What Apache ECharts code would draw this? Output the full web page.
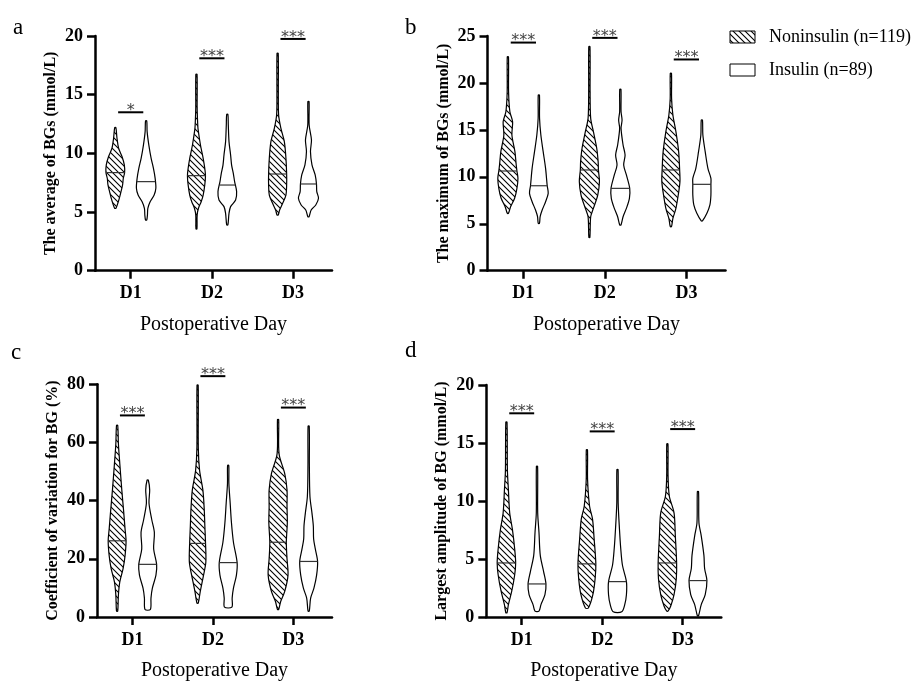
<!DOCTYPE html>
<html><head><meta charset="utf-8">
<script src="https://cdn.jsdelivr.net/npm/echarts@6/dist/echarts.min.js"></script>
<style>html,body{margin:0;padding:0;background:#fff}#c{width:920px;height:682px}</style>
</head><body><div id="c"></div>
<script>
// ---------- data ----------
const days = ['D1', 'D2', 'D3'];
const groupNames = ['Noninsulin (n=119)', 'Insulin (n=89)'];
const panelLetters = ['a', 'b', 'c', 'd'];
const yTitles = ['The average of BGs (mmol/L)', 'The maximum of BGs (mmol/L)', 'Coefficient of variation for BG (%)', 'Largest amplitude of BG (mmol/L)'];
const xTitle = 'Postoperative Day';
const yMax = [20, 25, 80, 20];
const yStep = [5, 5, 20, 5];

// violin profiles: [value, relative half-width], listed top to bottom, one per day
const avgNon = [
  [[12.19,0.6],[11.29,1.7],[10.44,3.3],[9.73,6.7],[9.02,9],[8.36,9.3],[7.88,8],[7.31,7.3],[6.74,5.7],[6.17,4],[5.61,2],[5.32,0.6]],
  [[16.74,0.6],[13.84,0.7],[12.42,1.3],[12.0,1.7],[10.71,4],[9.58,6.7],[8.72,8.3],[8.10,9],[7.31,8.3],[6.45,6.7],[5.88,4.7],[5.32,2],[4.75,0.7],[3.55,0.5]],
  [[18.53,0.6],[15.26,0.7],[13.27,1],[12.13,3.3],[11.0,6.7],[9.58,8.3],[8.24,9],[7.31,9],[6.45,8.3],[5.74,5],[5.17,2],[4.75,0.6]]
];
const avgIns = [
  [[12.76,0.6],[11.85,1],[10.7,2.7],[9.57,5],[8.72,7.3],[7.87,9],[7.02,9.7],[6.45,8],[5.88,4],[5.32,1.7],[4.75,1.3],[4.32,0.6]],
  [[13.33,0.6],[12.42,1],[11.0,1.7],[9.86,3.3],[9.0,4.3],[8.3,6],[7.59,7.3],[6.74,9.3],[6.02,8.3],[5.46,3.3],[4.89,1.7],[3.9,0.6]],
  [[14.41,0.6],[12.42,0.7],[11.14,3],[10.15,2],[9.02,3.5],[8.16,6.7],[7.39,8],[6.74,8.3],[6.17,10],[5.6,7.3],[5.17,2.7],[4.6,0.6]]
];
const maxNon = [
  [[22.79,0.6],[19.06,0.7],[16.93,2],[15.87,4.7],[14.45,4],[12.68,7],[11.26,8.3],[10.62,9],[9.84,10],[8.77,9],[7.71,6.7],[6.82,2.7],[6.11,0.6]],
  [[23.86,0.6],[19.06,0.7],[16.23,1.3],[14.81,4],[13.04,7.3],[11.62,8.7],[10.73,9],[9.49,10],[8.06,8.3],[6.64,4],[5.75,1.3],[3.55,0.5]],
  [[21.02,0.6],[18.35,0.7],[16.58,2],[14.81,5],[12.68,7.7],[10.73,8.7],[9.49,9],[8.06,7.3],[6.64,5],[5.57,2],[4.69,0.6]]
];
const maxIns = [
  [[18.71,0.6],[16.23,0.7],[14.45,2],[12.68,4.3],[10.9,6.7],[9.05,8.3],[8.24,9.3],[7.35,6.7],[6.46,3.3],[5.75,1.3],[5.04,0.6]],
  [[19.32,0.6],[16.93,0.7],[16.04,1.7],[15.16,0.7],[13.39,2.7],[12.32,4.7],[11.26,3.3],[10.2,6],[8.77,9.3],[7.71,9],[6.64,6],[5.75,2.7],[4.87,0.6]],
  [[16.05,0.6],[14.45,1],[12.68,3.3],[10.9,6],[9.84,9],[9.2,9],[8.06,9],[7.0,8],[6.11,5],[5.3,0.6]]
];
const cvNon = [
  [[65.9,0.6],[59.5,1.3],[52.7,2.7],[43.7,4.7],[35.8,6.7],[30.2,8],[26.2,9],[21.1,8],[16.6,6],[12.1,2.7],[7.6,1.3],[2.0,0.6]],
  [[79.7,0.6],[58.3,0.7],[50.4,2],[43.7,5.3],[36.9,6.7],[31.3,7.3],[25.3,8],[18.9,8.3],[14.4,6],[8.8,2.7],[4.8,0.7]],
  [[67.9,0.6],[56.1,1],[49.3,6.7],[43.7,9],[38.0,9],[32.4,9.3],[25.7,8.3],[20.0,9],[14.4,10],[8.8,6.7],[5.4,2.7],[2.6,0.6]]
];
const cvIns = [
  [[47.1,0.6],[43.7,2],[39.2,1.3],[33.6,4],[29.1,6.7],[23.4,6],[18.1,9],[14.4,8.3],[9.9,4.7],[6.5,3.3],[2.6,2.7]],
  [[52.1,0.6],[46.0,0.7],[39.2,2],[32.4,3.3],[25.7,5.3],[18.7,9],[14.4,8.3],[9.9,5.3],[6.5,4],[3.4,3.7]],
  [[65.6,0.6],[52.7,0.7],[41.4,1.3],[35.8,3.3],[31.3,4.7],[26.8,5],[23.4,6.7],[19.1,9],[14.4,8],[9.9,5.3],[6.5,2],[2.0,0.6]]
];
const ampNon = [
  [[16.81,0.6],[12.66,1],[10.96,2],[8.98,3.3],[7.57,6],[5.88,8.3],[4.66,9.3],[3.62,8.3],[2.2,5.3],[1.07,2],[0.37,0.6]],
  [[14.41,0.6],[11.81,0.7],[9.55,2.7],[8.42,5.7],[6.72,7.3],[4.58,9],[3.33,8.3],[1.92,6],[0.78,1.5]],
  [[14.92,0.6],[12.09,0.7],[10.4,2],[8.98,6.7],[7.0,8],[4.66,9.3],[3.33,9],[1.92,6.7],[0.93,3.3],[0.51,0.6]]
];
const ampIns = [
  [[12.99,0.6],[8.98,0.7],[7.29,2],[5.31,3.3],[3.9,6.7],[2.85,9],[1.92,8],[1.07,4],[0.51,2]],
  [[12.71,0.6],[9.83,0.7],[7.57,2],[5.88,3.3],[4.46,5],[3.05,9],[1.92,9],[1.07,7.3],[0.45,4.3]],
  [[10.82,0.6],[8.13,1],[7.0,3.3],[5.31,6],[4.18,6.7],[3.14,9],[1.92,7.3],[1.07,3.3],[0.11,0.6]]
];
// medians per day
const avgMedNon = [8.36, 8.10, 8.24];
const avgMedIns = [7.59, 7.30, 7.39];
const maxMedNon = [10.62, 10.73, 10.73];
const maxMedIns = [9.05, 8.77, 9.20];
const cvMedNon = [26.2, 25.3, 25.7];
const cvMedIns = [18.1, 18.7, 19.1];
const ampMedNon = [4.66, 4.58, 4.66];
const ampMedIns = [2.85, 3.05, 3.14];
// significance bars: height and label per day
const avgSigY = [13.5, 18.1, 19.75];
const maxSigY = [24.3, 24.8, 22.5];
const cvSigY = [69.3, 82.8, 72.0];
const ampSigY = [17.56, 16.0, 16.2];
const avgSigLabel = ['*', '***', '***'];
const maxSigLabel = ['***', '***', '***'];
const cvSigLabel = ['***', '***', '***'];
const ampSigLabel = ['***', '***', '***'];

const panelsNon = [avgNon, maxNon, cvNon, ampNon];
const panelsIns = [avgIns, maxIns, cvIns, ampIns];
const medNon = [avgMedNon, maxMedNon, cvMedNon, ampMedNon];
const medIns = [avgMedIns, maxMedIns, cvMedIns, ampMedIns];
const sigY = [avgSigY, maxSigY, cvSigY, ampSigY];
const sigLabel = [avgSigLabel, maxSigLabel, cvSigLabel, ampSigLabel];

// ---------- layout / style ----------
const grids = [
  {left: 95, top: 36, width: 237, height: 234.7},
  {left: 487.5, top: 36, width: 238, height: 234.7},
  {left: 97, top: 384.3, width: 235, height: 236.7},
  {left: 486.3, top: 385, width: 235, height: 236}
];
const letterPos = [[13, 28], [405, 28], [11, 353], [405, 351]];
const SERIF = '"Liberation Serif", "Times New Roman", serif';

function makeHatch() {
  const s = 6;
  const c = document.createElement('canvas');
  c.width = s; c.height = s;
  const g = c.getContext('2d');
  g.fillStyle = '#fff'; g.fillRect(0, 0, s, s);
  g.strokeStyle = '#000'; g.lineWidth = 1.1;
  g.beginPath();
  g.moveTo(-1, -1); g.lineTo(s + 1, s + 1);
  g.moveTo(-1, s - 1); g.lineTo(1, s + 1);
  g.moveTo(s - 1, -1); g.lineTo(s + 1, 1);
  g.stroke();
  return c;
}
const hatch = {image: makeHatch(), repeat: 'repeat'};

function widthAt(prof, m) {
  for (let i = 0; i < prof.length - 1; i++) {
    const a = prof[i], b = prof[i + 1];
    if (m <= a[0] && m >= b[0]) {
      const t = (a[0] - m) / (a[0] - b[0] || 1);
      return a[1] + (b[1] - a[1]) * t;
    }
  }
  return prof[0][1];
}

function violinRender(profiles, medians, offset, filled) {
  return function (params, api) {
    const d = api.value(0);
    const prof = profiles[d - 1];
    const k = api.size([1, 0])[0] / 81;
    const right = [], left = [];
    prof.forEach(function (p) {
      const c = api.coord([d + offset, p[0]]);
      right.push([c[0] + p[1] * k, c[1]]);
      left.unshift([c[0] - p[1] * k, c[1]]);
    });
    const m = medians[d - 1];
    const hw = widthAt(prof, m) * k;
    const cm = api.coord([d + offset, m]);
    return {
      type: 'group',
      children: [
        {type: 'polygon', shape: {points: right.concat(left), smooth: 0.3},
          style: {fill: filled ? hatch : '#fff', stroke: '#000', lineWidth: 1.2}},
        {type: 'line', shape: {x1: cm[0] - hw, y1: cm[1], x2: cm[0] + hw, y2: cm[1]},
          style: {stroke: '#333', lineWidth: 1.2}}
      ]
    };
  };
}

function sigRender(labels) {
  return function (params, api) {
    const d = api.value(0), y = api.value(1);
    const a = api.coord([d - 0.155, y]);
    const b = api.coord([d + 0.155, y]);
    return {
      type: 'group',
      children: [
        {type: 'line', shape: {x1: a[0], y1: a[1], x2: b[0], y2: b[1]}, style: {stroke: '#000', lineWidth: 2}},
        {type: 'text', style: {x: (a[0] + b[0]) / 2, y: a[1] - 1.5, text: labels[d - 1], align: 'center', verticalAlign: 'middle',
          font: '16px "DejaVu Sans"', fill: '#444'}}
      ]
    };
  };
}

const xAxes = [], yAxes = [], series = [], graphics = [];
for (let p = 0; p < 4; p++) {
  xAxes.push({
    type: 'value', gridIndex: p, min: 0.56, max: 3.48,
    name: xTitle, nameLocation: 'middle', nameGap: 44,
    nameTextStyle: {fontFamily: SERIF, fontSize: 20, color: '#000'},
    axisLine: {show: true, lineStyle: {color: '#000', width: 2.5}},
    axisTick: {show: true, customValues: [1, 2, 3], length: 8, lineStyle: {color: '#000', width: 2.5}},
    axisLabel: {customValues: [1, 2, 3], formatter: function (v) { return days[Math.round(v) - 1]; },
      fontFamily: SERIF, fontWeight: 'bold', fontSize: 18, color: '#000', margin: 14},
    splitLine: {show: false}
  });
  yAxes.push({
    type: 'value', gridIndex: p, min: 0, max: yMax[p], interval: yStep[p],
    name: yTitles[p], nameLocation: 'middle', nameGap: 36, nameRotate: 90,
    nameTextStyle: {fontFamily: SERIF, fontWeight: 'bold', fontSize: 16, color: '#000'},
    axisLine: {show: true, lineStyle: {color: '#000', width: 2.5}},
    axisTick: {show: true, length: 8, lineStyle: {color: '#000', width: 2.5}},
    axisLabel: {fontFamily: SERIF, fontWeight: 'bold', fontSize: 18, color: '#000', margin: 12},
    splitLine: {show: false}
  });
  series.push({
    type: 'custom', name: groupNames[0], xAxisIndex: p, yAxisIndex: p, silent: true,
    data: [[1, medNon[p][0]], [2, medNon[p][1]], [3, medNon[p][2]]],
    renderItem: violinRender(panelsNon[p], medNon[p], -0.19, true)
  });
  series.push({
    type: 'custom', name: groupNames[1], xAxisIndex: p, yAxisIndex: p, silent: true,
    data: [[1, medIns[p][0]], [2, medIns[p][1]], [3, medIns[p][2]]],
    renderItem: violinRender(panelsIns[p], medIns[p], 0.19, false)
  });
  series.push({
    type: 'custom', name: 'sig' + p, xAxisIndex: p, yAxisIndex: p, silent: true,
    data: [[1, sigY[p][0]], [2, sigY[p][1]], [3, sigY[p][2]]],
    renderItem: sigRender(sigLabel[p])
  });
  graphics.push({type: 'text', x: letterPos[p][0], y: letterPos[p][1],
    style: {text: panelLetters[p], font: '23px ' + SERIF, fill: '#000', verticalAlign: 'middle'}});
}
// legend
graphics.push({type: 'rect', shape: {x: 730, y: 31, width: 25, height: 12}, style: {fill: hatch, stroke: '#000', lineWidth: 1}});
graphics.push({type: 'rect', shape: {x: 730, y: 64, width: 25, height: 12}, style: {fill: '#fff', stroke: '#000', lineWidth: 1}});
graphics.push({type: 'text', x: 769, y: 37, style: {text: groupNames[0], font: '18px ' + SERIF, fill: '#000', verticalAlign: 'middle'}});
graphics.push({type: 'text', x: 769, y: 70, style: {text: groupNames[1], font: '18px ' + SERIF, fill: '#000', verticalAlign: 'middle'}});

const chart = echarts.init(document.getElementById('c'), null, {renderer: 'canvas'});
chart.setOption({
  animation: false,
  backgroundColor: '#fff',
  grid: grids,
  xAxis: xAxes,
  yAxis: yAxes,
  series: series,
  graphic: graphics
});
</script></body></html>
